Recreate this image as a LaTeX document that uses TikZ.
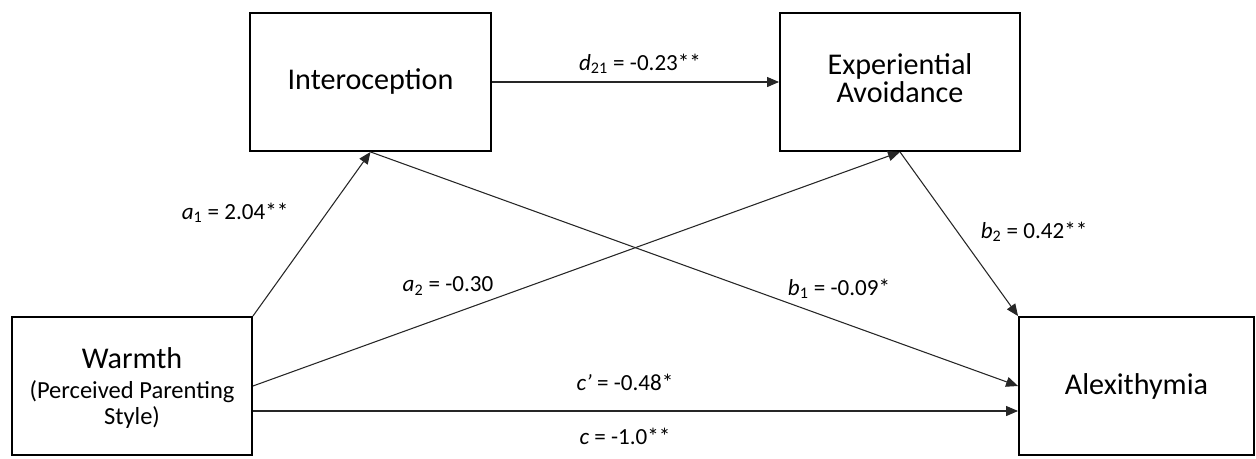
\documentclass[tikz,border=0pt]{standalone}
\usepackage{fontspec}
\setmainfont{Carlito}
\usetikzlibrary{arrows.meta,calc}
\begin{document}
\begin{tikzpicture}[x=0.75pt,y=-0.75pt,
  box/.style={draw=black,line width=1.4pt,minimum width=#1*0.75pt,minimum height=138*0.75pt,inner sep=0pt,align=center,font=\fontsize{22.6}{22}\selectfont},
  txt/.style={inner sep=0pt,align=center,font=\fontsize{18.4}{22.5}\selectfont},
  bigtxt/.style={inner sep=0pt,align=center,font=\fontsize{22.6}{21.5}\selectfont},
  path/.style={draw=black!85,line width=0.8pt,-{Triangle[length=9pt,width=7.5pt]}},
  lab/.style={inner sep=0pt,font=\fontsize{17.3}{20}\selectfont}]
\useasboundingbox (0,0) rectangle (1256,458);
\node[box=240] (warm) at (132,386) {};
\node[txt] (warmtxt) at (132,388) {{\fontsize{22.6}{22.5}\selectfont Warmth}\\(Perceived Parenting\\[-3pt]Style)};
\node[box=241] (intero) at (370.5,82) {Interoception};
\node[box=240] (ea) at (900,82) {};
\node[bigtxt] (eatxt) at (900,78) {Experiential\\Avoidance};
\node[box=235] (alex) at (1136.5,386) {Alexithymia};
\coordinate (c1) at ($(warm.east)+(0,25)$);
\coordinate (c2) at (alex.west |- c1);
\draw[path] (intero.east) -- (ea.west);
\draw[path] (warm.north east) -- (intero.south);
\draw[path] (warm.east) -- (ea.south);
\draw[path] (intero.south) -- (alex.west);
\draw[path] (ea.south) -- (alex.north west);
\draw[path] (c1) -- (c2);
\node[lab] (ld) at (640,64) {\textit{d}\textsubscript{21} = -0.23**};
\node[lab] (la1) at (235,213) {\textit{a}\textsubscript{1} = 2.04**};
\node[lab] (la2) at (448,286) {\textit{a}\textsubscript{2} = -0.30};
\node[lab] (lb1) at (839,289) {\textit{b}\textsubscript{1} = -0.09*};
\node[lab] (lb2) at (1034,232) {\textit{b}\textsubscript{2} = 0.42**};
\node[lab] (lcp) at (625,382) {\textit{c'} = -0.48*};
\node[lab] (lc) at (625,436) {\textit{c} = -1.0**};
\end{tikzpicture}
\end{document}
